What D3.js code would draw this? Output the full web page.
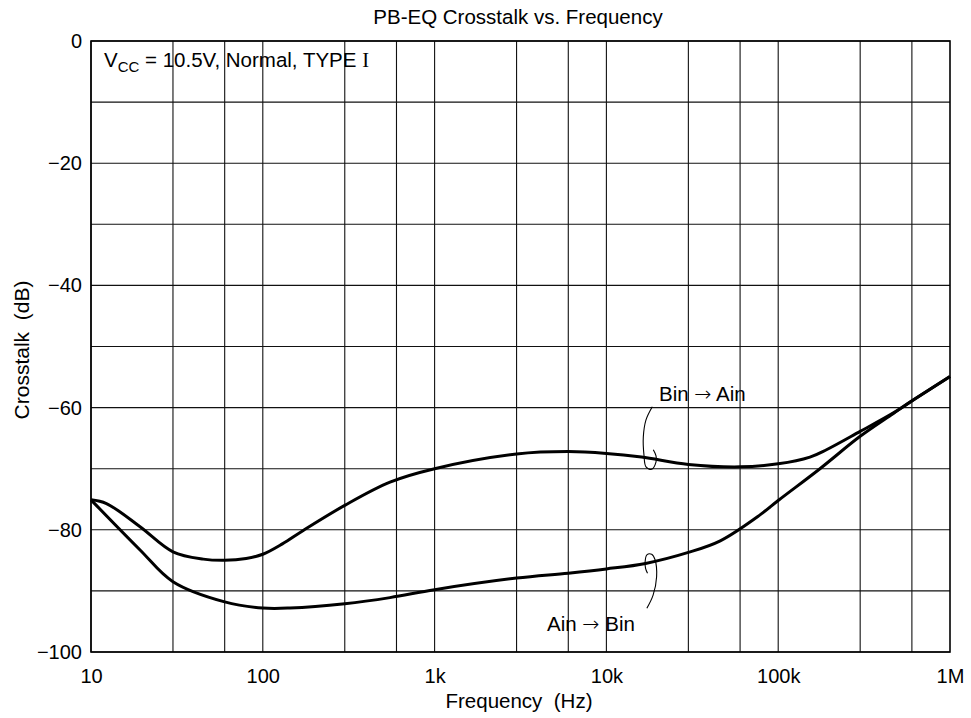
<!DOCTYPE html>
<html><head><meta charset="utf-8">
<script src="https://cdn.jsdelivr.net/npm/d3@7"></script>
<style>body{margin:0;background:#fff}svg{display:block}text{font-family:"Liberation Sans",Arial,sans-serif;fill:#000;white-space:pre}</style>
</head><body><svg id="c" width="971" height="718"></svg>
<script>
const titleText = "PB-EQ Crosstalk vs. Frequency";
const xLabel = "Frequency  (Hz)";
const yLabel = "Crosstalk  (dB)";
const freqTicks = [10, 100, 1e3, 1e4, 1e5, 1e6];
const freqTickLabels = ["10", "100", "1k", "10k", "100k", "1M"];
const gridMultipliers = [1, 3, 6];
const dbTicks = [0, -20, -40, -60, -80, -100];
const dbTickLabels = ["0", "\u221220", "\u221240", "\u221260", "\u221280", "\u2212100"];
const dbGrid = [0, -10, -20, -30, -40, -50, -60, -70, -80, -90, -100];

const binAinFreq = [10, 12.3, 19.3, 30, 45, 60, 80, 100, 130, 172, 300, 550, 1000, 3000, 6000, 10000, 16000, 30000, 60000, 100000, 153000, 191000, 300000, 466000, 585000, 1000000];
const binAinDb   = [-75.1, -75.7, -79.5, -83.6, -84.8, -85.0, -84.7, -84.0, -82.3, -80.1, -76.0, -72.2, -70.0, -67.6, -67.2, -67.5, -68.1, -69.3, -69.7, -69.2, -68.1, -66.9, -63.9, -60.9, -59.1, -54.9];
const ainBinFreq = [10, 19.3, 30, 60, 100, 144, 300, 550, 1000, 3000, 6000, 10000, 16900, 30000, 46000, 78000, 100000, 175000, 300000, 466000, 600000, 1000000];
const ainBinDb   = [-75.1, -83.3, -88.5, -91.8, -92.8, -92.8, -92.1, -91.1, -89.8, -87.9, -87.1, -86.4, -85.5, -83.7, -81.8, -77.6, -75.2, -70.0, -64.7, -61.0, -58.9, -54.9];

const binLeaderFreq = [18500, 17000, 16400, 16550, 17000, 18350, 19450, 19450, 18750];
const binLeaderDb   = [-59.85, -62.0, -64.8, -67.8, -69.7, -70.1, -68.9, -67.9, -66.9];
const ainLeaderFreq = [17200, 18700, 19600, 19200, 18350, 17200, 16800, 16900, 17350];
const ainLeaderDb   = [-92.85, -90.7, -87.7, -84.9, -84.0, -84.1, -85.3, -86.3, -87.1];

const svg = d3.select("#c");
const L = 91, R = 950, T = 41, B = 652;
const x = d3.scaleLog().domain([10, 1e6]).range([L, R]);
const y = d3.scaleLinear().domain([-100, 0]).range([B, T]);

// grid
const vGrid = [];
for (let d = 10; d < 1e6; d *= 10) gridMultipliers.forEach(m => vGrid.push(d * m));
svg.append("g").selectAll("line").data(vGrid).join("line")
  .attr("x1", d => x(d)).attr("x2", d => x(d)).attr("y1", T).attr("y2", B)
  .attr("stroke", "#111").attr("stroke-width", 1.1);
svg.append("g").selectAll("line").data(dbGrid).join("line")
  .attr("x1", L).attr("x2", R).attr("y1", d => y(d)).attr("y2", d => y(d))
  .attr("stroke", "#111").attr("stroke-width", 1.1);
svg.append("rect").attr("x", L).attr("y", T).attr("width", R - L).attr("height", B - T)
  .attr("fill", "none").attr("stroke", "#000").attr("stroke-width", 1.6);

// axes
const xAxis = d3.axisBottom(x).tickValues(freqTicks).tickFormat((d, i) => freqTickLabels[i]).tickSize(0).tickPadding(17);
const gx = svg.append("g").attr("transform", `translate(0,${B})`).call(xAxis);
gx.select(".domain").remove();
gx.selectAll("text").attr("font-size", 20).attr("font-family", "Liberation Sans, Arial, sans-serif").attr("fill", "#000");
const yAxis = d3.axisLeft(y).tickValues(dbTicks).tickFormat((d, i) => dbTickLabels[i]).tickSize(0).tickPadding(9);
const gy = svg.append("g").attr("transform", `translate(${L},0)`).call(yAxis);
gy.select(".domain").remove();
gy.selectAll("text").attr("font-size", 20).attr("font-family", "Liberation Sans, Arial, sans-serif").attr("fill", "#000");

// curves
const line = d3.line().x(d => x(d[0])).y(d => y(d[1])).curve(d3.curveCatmullRom.alpha(0.5));
const s1 = binAinFreq.map((f, i) => [f, binAinDb[i]]);
const s2 = ainBinFreq.map((f, i) => [f, ainBinDb[i]]);
[s1, s2].forEach(s => svg.append("path").attr("d", line(s)).attr("fill", "none")
  .attr("stroke", "#000").attr("stroke-width", 3).attr("stroke-linejoin", "round"));

// leaders
const lead = d3.line().x(d => x(d[0])).y(d => y(d[1])).curve(d3.curveCatmullRom);
[[binLeaderFreq, binLeaderDb], [ainLeaderFreq, ainLeaderDb]].forEach(([fs, ds]) =>
  svg.append("path").attr("d", lead(fs.map((f, i) => [f, ds[i]]))).attr("fill", "none")
    .attr("stroke", "#000").attr("stroke-width", 1.1));

// texts
svg.append("text").attr("x", 518).attr("y", 24).attr("text-anchor", "middle").attr("font-size", 20.5).text(titleText);
svg.append("text").attr("x", 519).attr("y", 708).attr("text-anchor", "middle").attr("font-size", 20.5).text(xLabel);
svg.append("text").attr("transform", "translate(29,350) rotate(-90)").attr("text-anchor", "middle").attr("font-size", 21).text(yLabel);

const vcc = svg.append("text").attr("x", 104).attr("y", 67).attr("font-size", 20.5);
vcc.append("tspan").text("V");
vcc.append("tspan").attr("font-size", 15).attr("dy", 5).text("CC");
vcc.append("tspan").attr("dy", -5).text(" = 10.5V, Normal, TYPE ");
vcc.append("tspan").attr("font-family", "Liberation Serif, serif").text("I");

function arrowLabel(px, py, a, b) {
  const t = svg.append("text").attr("x", px).attr("y", py).attr("font-size", 20.5);
  t.append("tspan").text(a + " ");
  t.append("tspan").attr("font-family", "DejaVu Sans, sans-serif").attr("font-weight", 200).text("\u2192");
  t.append("tspan").text(" " + b);
}
arrowLabel(659, 401, "Bin", "Ain");
arrowLabel(547, 631, "Ain", "Bin");
</script></body></html>
